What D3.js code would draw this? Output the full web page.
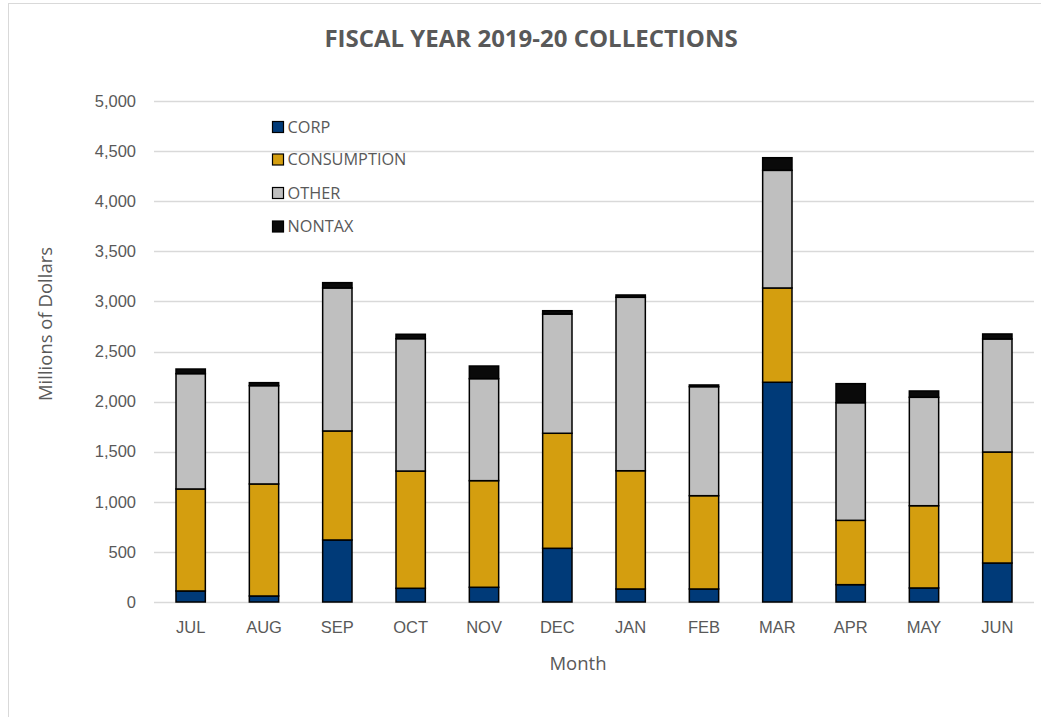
<!DOCTYPE html>
<html>
<head>
<meta charset="utf-8">
<script src="https://cdn.jsdelivr.net/npm/d3@7"></script>
<style>
  html, body { margin: 0; padding: 0; background: #fff; }
  svg { display: block; font-family: "Open Sans", "Liberation Sans", sans-serif; }
</style>
</head>
<body>
<svg id="chart" width="1041" height="717"></svg>
<script>
// Monthly collections, millions of dollars
const months = ["JUL", "AUG", "SEP", "OCT", "NOV", "DEC", "JAN", "FEB", "MAR", "APR", "MAY", "JUN"];
const corp        = [110,   60,  619,  137,  147,  536,  130,  130, 2193,  173,  140,  389];
const consumption = [1018, 1118, 1088, 1170, 1064, 1148, 1180,  931,  941,  642,  821, 1108];
const other       = [1151,  981, 1427, 1321, 1018, 1190, 1731, 1088, 1174, 1174, 1082, 1128];
const nontax      = [46,    30,   53,   44,  126,   33,   23,   17,  126,  190,   63,   50];
const seriesNames = ["CORP", "CONSUMPTION", "OTHER", "NONTAX"];
const yTicks = [0, 500, 1000, 1500, 2000, 2500, 3000, 3500, 4000, 4500, 5000];

const colors = ["#003a78", "#d49e0f", "#bfbfbf", "#0a0a0a"];
const textColor = "#595959";

const svg = d3.select("#chart");

// chart area frame
svg.append("rect")
  .attr("x", 8.5).attr("y", 3.5)
  .attr("width", 1100).attr("height", 800)
  .attr("fill", "#fff").attr("stroke", "#d9d9d9").attr("stroke-width", 1);

const plot = { left: 154, right: 1034, top: 101, bottom: 602 };

const x = d3.scaleBand().domain(months)
  .range([plot.left, plot.right]).paddingInner(0.6).paddingOuter(0.3);
const y = d3.scaleLinear().domain([0, 5000]).range([plot.bottom, plot.top]);

// gridlines
svg.append("g")
  .selectAll("line").data(yTicks).join("line")
  .attr("x1", plot.left).attr("x2", plot.right)
  .attr("y1", d => Math.round(y(d)) + 0.5).attr("y2", d => Math.round(y(d)) + 0.5)
  .attr("stroke", "#d9d9d9").attr("stroke-width", 1.3);

// y axis labels
const yAxis = d3.axisLeft(y).tickValues(yTicks).tickFormat(d3.format(",")).tickSize(0).tickPadding(0);
const yg = svg.append("g").attr("transform", `translate(136,0)`).call(yAxis);
yg.select(".domain").remove();
yg.selectAll("text").attr("fill", textColor).style("font-size", "16.5px");

// x axis labels
const xAxis = d3.axisBottom(x).tickSize(0).tickPadding(0);
const xg = svg.append("g").attr("transform", `translate(0,${plot.bottom + 19})`).call(xAxis);
xg.select(".domain").remove();
xg.selectAll("text").attr("fill", textColor).style("font-size", "16.5px");

// stacked bars
const rows = months.map((m, i) => ({
  month: m, CORP: corp[i], CONSUMPTION: consumption[i], OTHER: other[i], NONTAX: nontax[i]
}));
const stacked = d3.stack().keys(seriesNames)(rows);

svg.append("g")
  .selectAll("g").data(stacked).join("g")
  .attr("fill", (d, i) => colors[i])
  .selectAll("rect").data(d => d).join("rect")
  .attr("x", d => x(d.data.month))
  .attr("y", d => y(d[1]))
  .attr("width", x.bandwidth())
  .attr("height", d => y(d[0]) - y(d[1]))
  .attr("stroke", "#000").attr("stroke-width", 1.5);

// title
svg.append("text")
  .attr("x", 531).attr("y", 46.5)
  .attr("text-anchor", "middle")
  .attr("fill", textColor)
  .style("font-size", "24px").style("font-weight", "bold")
  .text("FISCAL YEAR 2019-20 COLLECTIONS");

// axis titles
svg.append("text")
  .attr("transform", "translate(52,324) rotate(-90)")
  .attr("text-anchor", "middle")
  .attr("fill", textColor).style("font-size", "18.5px")
  .text("Millions of Dollars");

svg.append("text")
  .attr("x", 578).attr("y", 670)
  .attr("text-anchor", "middle")
  .attr("fill", textColor).style("font-size", "18.5px")
  .text("Month");

// legend
const legendY = [127, 159.5, 193, 226.5];
const legend = svg.append("g").selectAll("g").data(seriesNames).join("g")
  .attr("transform", (d, i) => `translate(272,${legendY[i]})`);
legend.append("rect")
  .attr("x", 0.5).attr("y", -5.5).attr("width", 11).attr("height", 11)
  .attr("fill", (d, i) => colors[i]).attr("stroke", "#000").attr("stroke-width", 1.2);
legend.append("text")
  .attr("x", 15.5).attr("y", 0).attr("dy", "0.36em")
  .attr("fill", textColor).style("font-size", "16.3px")
  .text(d => d);
</script>
</body>
</html>
